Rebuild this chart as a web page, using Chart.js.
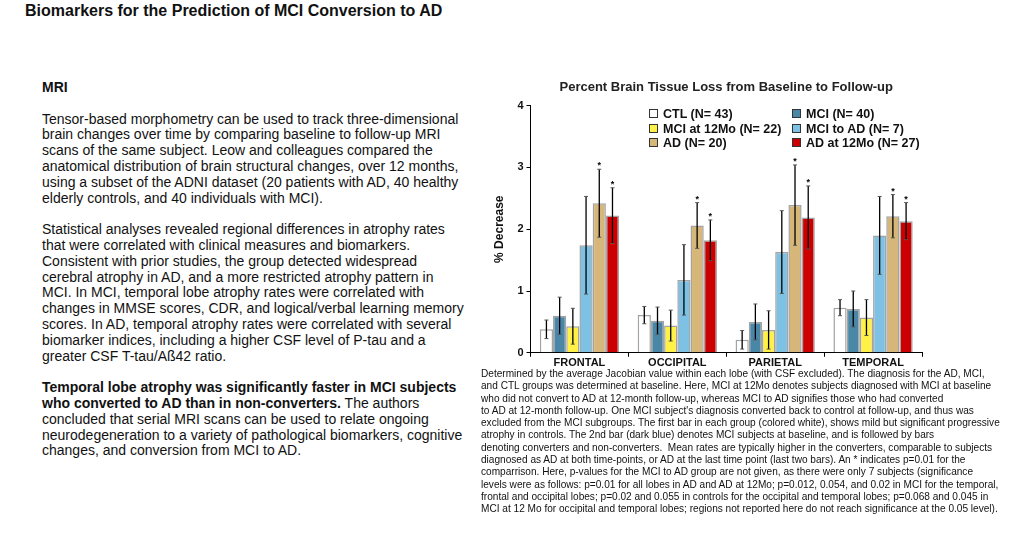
<!DOCTYPE html>
<html>
<head>
<meta charset="utf-8">
<script src="https://cdn.jsdelivr.net/npm/chart.js@4.4.1/dist/chart.umd.min.js"></script>
<style>
  body { margin: 0; background: #fff; font-family: "Liberation Sans", Arial, Helvetica, sans-serif; color: #111; }
  #page { position: relative; width: 1014px; height: 543px; overflow: hidden; }
  #title { position: absolute; left: 25px; top: 2px; font-size: 16px; font-weight: bold; white-space: nowrap; }
  #left { position: absolute; left: 42px; top: 80px; font-size: 14px; line-height: 15.8px; white-space: nowrap; }
  #left p { margin: 0 0 15.8px 0; }
  #chartBox { position: absolute; left: 480px; top: 75px; width: 480px; height: 300px; }
  #legend { position: absolute; left: 0; top: 0; }
  .lg { position: absolute; font-size: 12.5px; font-weight: bold; white-space: nowrap; line-height: 14px; }
  .lg span.box { display: inline-block; width: 7px; height: 7px; border: 1px solid #333; margin-right: 5px; vertical-align: 0px; }
  #caption { position: absolute; left: 481px; top: 368px; font-size: 10.1px; line-height: 12.3px; white-space: nowrap; }
</style>
</head>
<body>
<div id="page">
  <div id="title">Biomarkers for the Prediction of MCI Conversion to AD</div>
  <div id="left">
    <p><b>MRI</b></p>
    <p>Tensor-based morphometry can be used to track three-dimensional<br>
    brain changes over time by comparing baseline to follow-up MRI<br>
    scans of the same subject. Leow and colleagues compared the<br>
    anatomical distribution of brain structural changes, over 12 months,<br>
    using a subset of the ADNI dataset (20 patients with AD, 40 healthy<br>
    elderly controls, and 40 individuals with MCI).</p>
    <p>Statistical analyses revealed regional differences in atrophy rates<br>
    that were correlated with clinical measures and biomarkers.<br>
    Consistent with prior studies, the group detected widespread<br>
    cerebral atrophy in AD, and a more restricted atrophy pattern in<br>
    MCI. In MCI, temporal lobe atrophy rates were correlated with<br>
    changes in MMSE scores, CDR, and logical/verbal learning memory<br>
    scores. In AD, temporal atrophy rates were correlated with several<br>
    biomarker indices, including a higher CSF level of P-tau and a<br>
    greater CSF T-tau/Aß42 ratio.</p>
    <p><b>Temporal lobe atrophy was significantly faster in MCI subjects<br>
    who converted to AD than in non-converters.</b> The authors<br>
    concluded that serial MRI scans can be used to relate ongoing<br>
    neurodegeneration to a variety of pathological biomarkers, cognitive<br>
    changes, and conversion from MCI to AD.</p>
  </div>
  <div id="chartBox"><canvas id="brainChart"></canvas></div>
  <div id="legend"></div>
  <div id="caption">
    Determined by the average Jacobian value within each lobe (with CSF excluded). The diagnosis for the AD, MCI,<br>
    and CTL groups was determined at baseline. Here, MCI at 12Mo denotes subjects diagnosed with MCI at baseline<br>
    who did not convert to AD at 12-month follow-up, whereas MCI to AD signifies those who had converted<br>
    to AD at 12-month follow-up. One MCI subject's diagnosis converted back to control at follow-up, and thus was<br>
    excluded from the MCI subgroups. The first bar in each group (colored white), shows mild but significant progressive<br>
    atrophy in controls. The 2nd bar (dark blue) denotes MCI subjects at baseline, and is followed by bars<br>
    denoting converters and non-converters.&nbsp; Mean rates are typically higher in the converters, comparable to subjects<br>
    diagnosed as AD at both time-points, or AD at the last time point (last two bars). An * indicates p=0.01 for the<br>
    comparrison. Here, p-values for the MCI to AD group are not given, as there were only 7 subjects (significance<br>
    levels were as follows: p=0.01 for all lobes in AD and AD at 12Mo; p=0.012, 0.054, and 0.02 in MCI for the temporal,<br>
    frontal and occipital lobes; p=0.02 and 0.055 in controls for the occipital and temporal lobes; p=0.068 and 0.045 in<br>
    MCI at 12 Mo for occipital and temporal lobes; regions not reported here do not reach significance at the 0.05 level).
  </div>
</div>

<script>
// lobes on the x axis
var lobes = ['FRONTAL', 'OCCIPITAL', 'PARIETAL', 'TEMPORAL'];

// groups (legend order)
var groupNames = ['CTL (N= 43)', 'MCI (N= 40)', 'MCI at 12Mo (N= 22)', 'MCI to AD (N= 7)', 'AD (N= 20)', 'AD at 12Mo (N= 27)'];
var groupColors = ['#ffffff', '#4a86a6', '#fff146', '#7dc1e5', '#d6b779', '#cc0000'];

// mean % decrease per lobe
var ctl     = [0.38, 0.61, 0.21, 0.73];
var mci     = [0.60, 0.52, 0.50, 0.71];
var mci12   = [0.43, 0.44, 0.37, 0.57];
var mciToAd = [1.74, 1.18, 1.63, 1.90];
var ad      = [2.42, 2.06, 2.39, 2.21];
var ad12    = [2.22, 1.82, 2.19, 2.13];

// error bar half widths
var ctlErr     = [0.15, 0.14, 0.15, 0.13];
var mciErr     = [0.30, 0.22, 0.29, 0.29];
var mci12Err   = [0.29, 0.25, 0.31, 0.29];
var mciToAdErr = [0.79, 0.57, 0.67, 0.63];
var adErr      = [0.55, 0.37, 0.65, 0.35];
var ad12Err    = [0.45, 0.33, 0.51, 0.30];

// p=0.01 marks
var ctlStar     = [false, false, false, false];
var mciStar     = [false, false, false, false];
var mci12Star   = [false, false, false, false];
var mciToAdStar = [false, false, false, false];
var adStar      = [true, true, true, true];
var ad12Star    = [true, true, true, true];

var allValues = [ctl, mci, mci12, mciToAd, ad, ad12];
var allErrors = [ctlErr, mciErr, mci12Err, mciToAdErr, adErr, ad12Err];
var allStars  = [ctlStar, mciStar, mci12Star, mciToAdStar, adStar, ad12Star];

var fontFam = '"Liberation Sans", Arial, Helvetica, sans-serif';

var datasets = [];
for (let i = 0; i < groupNames.length; i++) {
    datasets.push({
        label: groupNames[i],
        data: allValues[i],
        errors: allErrors[i],
        stars: allStars[i],
        backgroundColor: groupColors[i],
        borderColor: '#a3a3a3',
        borderWidth: 1.5,
        categoryPercentage: 0.81,
        barPercentage: 1.0
    });
}

// draws the error bars and the asterisks
var errorBars = {
    id: 'errorBars',
    afterDatasetsDraw(chart) {
        var ctx = chart.ctx;
        var yScale = chart.scales.y;
        ctx.save();
        chart.data.datasets.forEach((ds, i) => {
            var meta = chart.getDatasetMeta(i);
            meta.data.forEach((bar, j) => {
                var v = ds.data[j], e = ds.errors[j];
                var top = yScale.getPixelForValue(v + e);
                var bot = yScale.getPixelForValue(v - e);
                ctx.strokeStyle = '#000';
                ctx.lineWidth = 1.3;
                ctx.beginPath();
                ctx.moveTo(bar.x, top);
                ctx.lineTo(bar.x, bot);
                ctx.stroke();
                ctx.strokeStyle = '#555';
                ctx.lineWidth = 1;
                ctx.beginPath();
                ctx.moveTo(bar.x - 2, top); ctx.lineTo(bar.x + 2, top);
                ctx.moveTo(bar.x - 2, bot); ctx.lineTo(bar.x + 2, bot);
                ctx.stroke();
                if (ds.stars[j]) {
                    ctx.fillStyle = '#000';
                    ctx.font = 'bold 9px ' + fontFam;
                    ctx.textAlign = 'center';
                    ctx.textBaseline = 'alphabetic';
                    ctx.fillText('*', bar.x, top - 1);
                }
            });
        });
        ctx.restore();
    }
};

var ctx = document.getElementById('brainChart').getContext('2d');

var brainChart = new Chart(ctx, {
    type: 'bar',
    data: {
        labels: lobes,
        datasets: datasets
    },
    options: {
        responsive: true,
        maintainAspectRatio: false,
        animation: false,
        layout: { padding: { left: 12, right: 38, top: 0, bottom: 5 } },
        plugins: {
            legend: { display: false },
            tooltip: { enabled: false },
            title: {
                display: true,
                fullSize: false,
                text: 'Percent Brain Tissue Loss from Baseline to Follow-up',
                color: '#222',
                font: { family: fontFam, size: 13, weight: 'bold' },
                padding: { top: 5, bottom: 10 }
            }
        },
        scales: {
            x: {
                offset: true,
                grid: { offset: true, drawOnChartArea: false, drawTicks: true, tickLength: 4, color: '#000' },
                border: { color: '#000', width: 1 },
                ticks: { color: '#111', padding: 0, font: { family: fontFam, size: 11, weight: 'bold' } }
            },
            y: {
                min: 0,
                max: 4,
                grid: { drawOnChartArea: false, drawTicks: true, tickLength: 4, color: '#000' },
                border: { color: '#000', width: 1 },
                ticks: { stepSize: 1, color: '#111', padding: 3, font: { family: fontFam, size: 11, weight: 'bold' } },
                title: {
                    display: true,
                    text: '% Decrease',
                    color: '#111',
                    font: { family: fontFam, size: 12, weight: 'bold' },
                    padding: { top: 0, bottom: 8 }
                }
            }
        }
    },
    plugins: [errorBars]
});

// legend, two columns inside the plot
var legendBox = document.getElementById('legend');
var legendCols = [649, 792];
var legendRows = [107, 122, 136];
for (let i = 0; i < groupNames.length; i++) {
    var item = document.createElement('div');
    item.className = 'lg';
    item.style.left = legendCols[i % 2] + 'px';
    item.style.top = legendRows[Math.floor(i / 2)] + 'px';
    item.innerHTML = '<span class="box" style="background:' + groupColors[i] + '"></span>' + groupNames[i];
    legendBox.appendChild(item);
}
</script>
</body>
</html>
